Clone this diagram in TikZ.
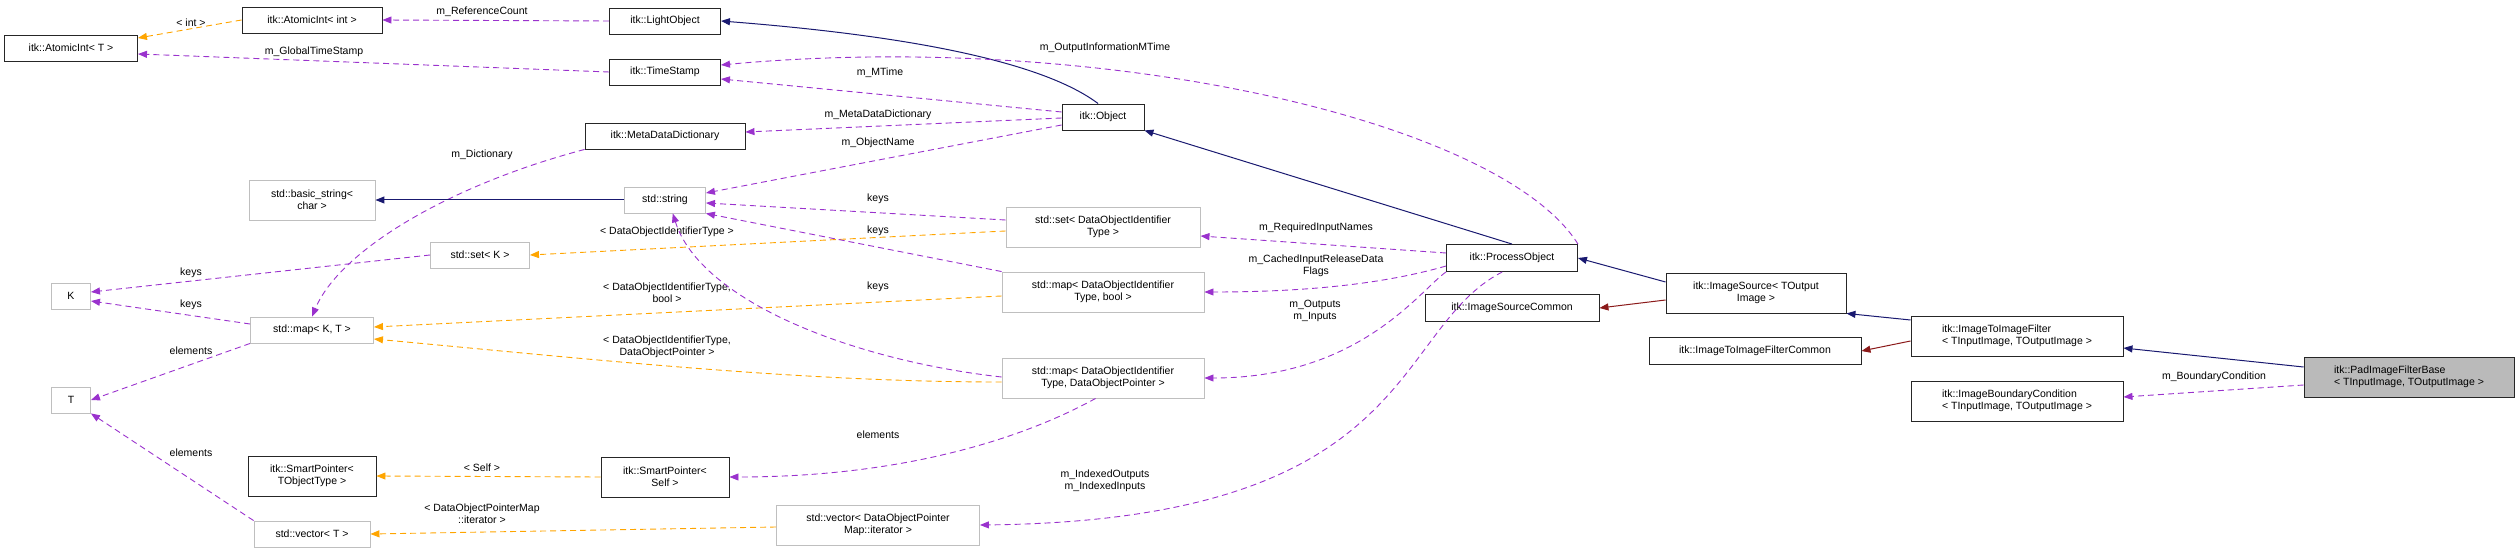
\documentclass[tikz,border=0pt]{standalone}
\usepackage{fontspec}
\setmainfont{Liberation Sans}
\usetikzlibrary{arrows.meta}
\definecolor{purp}{HTML}{9A32CD}
\definecolor{orng}{HTML}{FFA500}
\definecolor{navy}{HTML}{191970}
\definecolor{dred}{HTML}{8B1A1A}
\definecolor{gbord}{HTML}{BFBFBF}
\begin{document}
\begin{tikzpicture}[x=1pt,y=-1pt,
  font=\fontsize{10.5}{12}\selectfont,
  cls/.style={draw=black!85,line width=0.9pt,fill=white,inner sep=2pt,align=center,minimum height=26pt},
  ext/.style={draw=gbord,line width=0.9pt,fill=white,inner sep=2pt,align=center,minimum height=26pt},
  tip/.style={-{Triangle[length=9pt,width=7pt]}},
  use/.style={tip,purp,dashed,dash pattern=on 6pt off 4pt,line width=0.9pt},
  tpl/.style={tip,orng,dashed,dash pattern=on 6pt off 4pt,line width=0.9pt},
  inh/.style={tip,navy,line width=1pt},
  prv/.style={tip,dred,line width=1pt},
  lbl/.style={inner sep=0pt,align=center,fill=none,text=black}]
\useasboundingbox (0,0) rectangle (2520,553);
% nodes
\node[cls,minimum width=133pt] (ait) at (71,48) {itk::AtomicInt< T >};
\node[cls,minimum width=140pt] (aii) at (312,20) {itk::AtomicInt< int >};
\node[cls,minimum width=111pt] (lo) at (665,21) {itk::LightObject};
\node[cls,minimum width=111pt] (ts) at (665,72) {itk::TimeStamp};
\node[cls,minimum width=160pt] (mdd) at (665,136) {itk::MetaDataDictionary};
\node[cls,minimum width=82pt] (obj) at (1103,117) {itk::Object};
\node[ext,minimum width=126pt,minimum height=40pt] (bs) at (312,200) {std::basic\_string<\\char >};
\node[ext,minimum width=81pt] (str) at (665,200) {std::string};
\node[ext,minimum width=194pt,minimum height=40pt] (setd) at (1103,227) {std::set< DataObjectIdentifier\\Type >};
\node[cls,minimum width=131pt,minimum height=27pt] (po) at (1512,258) {itk::ProcessObject};
\node[ext,minimum width=99pt] (setk) at (480,255) {std::set< K >};
\node[ext,minimum width=39pt] (K) at (71,296) {K};
\node[ext,minimum width=123pt] (map) at (312,330) {std::map< K, T >};
\node[ext,minimum width=39pt] (T) at (71,400) {T};
\node[cls,minimum width=128pt,minimum height=40pt] (spt) at (312,476) {itk::SmartPointer<\\TObjectType >};
\node[ext,minimum width=116pt] (vt) at (312,534) {std::vector< T >};
\node[cls,minimum width=128pt,minimum height=40pt] (sps) at (665,477) {itk::SmartPointer<\\Self >};
\node[ext,minimum width=202pt,minimum height=40pt] (mapb) at (1103,292) {std::map< DataObjectIdentifier\\Type, bool >};
\node[ext,minimum width=202pt,minimum height=40pt] (mapp) at (1103,378) {std::map< DataObjectIdentifier\\Type, DataObjectPointer >};
\node[ext,minimum width=203pt,minimum height=40pt] (vdp) at (878,525) {std::vector< DataObjectPointer\\Map::iterator >};
\node[cls,minimum width=174pt,minimum height=27pt] (isc) at (1512,308) {itk::ImageSourceCommon};
\node[cls,minimum width=180pt,minimum height=40pt] (is) at (1756,293) {itk::ImageSource< TOutput\\Image >};
\node[cls,minimum width=212pt,minimum height=27pt] (itic) at (1755,351) {itk::ImageToImageFilterCommon};
\node[cls,minimum width=212pt,minimum height=40pt,align=left] (itif) at (2017,336) {itk::ImageToImageFilter\\< TInputImage, TOutputImage >};
\node[cls,minimum width=212pt,minimum height=40pt,align=left] (ibc) at (2017,401) {itk::ImageBoundaryCondition\\< TInputImage, TOutputImage >};
\node[cls,fill=black!27,minimum width=210pt,minimum height=40pt,align=left] (pad) at (2409,377) {itk::PadImageFilterBase\\< TInputImage, TOutputImage >};
% edges
\draw[tpl] (aii.west) -- (ait.east |- 0,38);
\node[lbl] (lin) at (191,23) {< int >};
\draw[use] (lo.west) -- (aii.east);
\node[lbl] (lrc) at (482,12) {m\_ReferenceCount};
\draw[use] (ts.west) -- (ait.east |- 0,54);
\node[lbl] (lgt) at (314,52) {m\_GlobalTimeStamp};
\draw[inh] (obj.110) .. controls (1040,60) and (900,35) .. (lo.east);
\draw[use] (obj.west |- 0,112) -- (ts.east |- 0,79);
\node[lbl] (lmt) at (880,73) {m\_MTime};
\draw[use] (po.north east) .. controls (1500,120) and (1100,30) .. (ts.east |- 0,65);
\node[lbl] (loi) at (1105,48) {m\_OutputInformationMTime};
\draw[use] (obj.west |- 0,118) -- (mdd.east |- 0,132);
\node[lbl] (lmd) at (878,115) {m\_MetaDataDictionary};
\draw[use] (obj.west |- 0,125) -- (str.east |- 0,193);
\node[lbl] (lon) at (878,143) {m\_ObjectName};
\draw[use] (mdd.south west) .. controls (450,185) and (340,250) .. (map.north);
\node[lbl] (ldi) at (482,155) {m\_Dictionary};
\draw[inh] (str.west) -- (bs.east);
\draw[use] (setd.west |- 0,220) -- (str.east |- 0,203);
\node[lbl] (lk1) at (878,199) {keys};
\draw[tpl] (setd.west |- 0,231) -- (setk.east);
\node[lbl] (ldt) at (667,232) {< DataObjectIdentifierType >};
\draw[use] (mapb.north west) -- (str.south east);
\node[lbl] (lk2) at (878,231) {keys};
\draw[tpl] (mapb.west |- 0,296) -- (map.east |- 0,327);
\node[lbl] (ldb) at (667,293) {< DataObjectIdentifierType,\\bool >};
\draw[use] (mapp.west |- 0,377) .. controls (850,360) and (700,300) .. (str.300);
\node[lbl] (lk3) at (878,287) {keys};
\draw[tpl] (mapp.west |- 0,382) .. controls (800,382) and (600,360) .. (map.east |- 0,339);
\node[lbl] (ldp) at (667,347) {< DataObjectIdentifierType,\\DataObjectPointer >};
\draw[use] (mapp.250) .. controls (1020,440) and (900,477) .. (sps.east);
\node[lbl] (lel) at (878,435) {elements};
\draw[tpl] (sps.west) -- (spt.east);
\node[lbl] (lse) at (482,468) {< Self >};
\draw[tpl] (vdp.west |- 0,527) -- (vt.east);
\node[lbl] (lit) at (482,514) {< DataObjectPointerMap\\::iterator >};
\draw[use] (setk.west) -- (K.east |- 0,292);
\node[lbl] (lk4) at (191,273) {keys};
\draw[use] (map.west |- 0,324) -- (K.east |- 0,301);
\node[lbl] (lk5) at (191,305) {keys};
\draw[use] (map.south west) -- (T.east);
\node[lbl] (le1) at (191,351) {elements};
\draw[use] (vt.north west) -- (T.south east);
\node[lbl] (le2) at (191,453) {elements};
\draw[inh] (po.north) -- (obj.south east);
\draw[use] (po.west |- 0,253) -- (setd.east |- 0,236);
\node[lbl] (lri) at (1316,228) {m\_RequiredInputNames};
\draw[use] (po.west |- 0,266) .. controls (1380,285) and (1300,292) .. (mapb.east);
\node[lbl] (lci) at (1316,266) {m\_CachedInputReleaseData\\Flags};
\draw[use] (po.south west) .. controls (1420,290) and (1360,378) .. (mapp.east);
\node[lbl] (loo) at (1315,311) {m\_Outputs\\m\_Inputs};
\draw[use] (po.235) .. controls (1390,330) and (1420,520) .. (vdp.east);
\node[lbl] (lix) at (1105,481) {m\_IndexedOutputs\\m\_IndexedInputs};
\draw[inh] (is.west |- 0,282) -- (po.east);
\draw[prv] (is.west |- 0,300) -- (isc.east);
\draw[inh] (itif.west |- 0,320) -- (is.south east);
\draw[prv] (itif.west |- 0,341) -- (itic.east);
\draw[inh] (pad.west |- 0,367) -- (itif.east |- 0,348);
\draw[use] (pad.west |- 0,385) -- (ibc.east |- 0,397);
\node[lbl] (lbc) at (2214,377) {m\_BoundaryCondition};
\end{tikzpicture}
\end{document}
